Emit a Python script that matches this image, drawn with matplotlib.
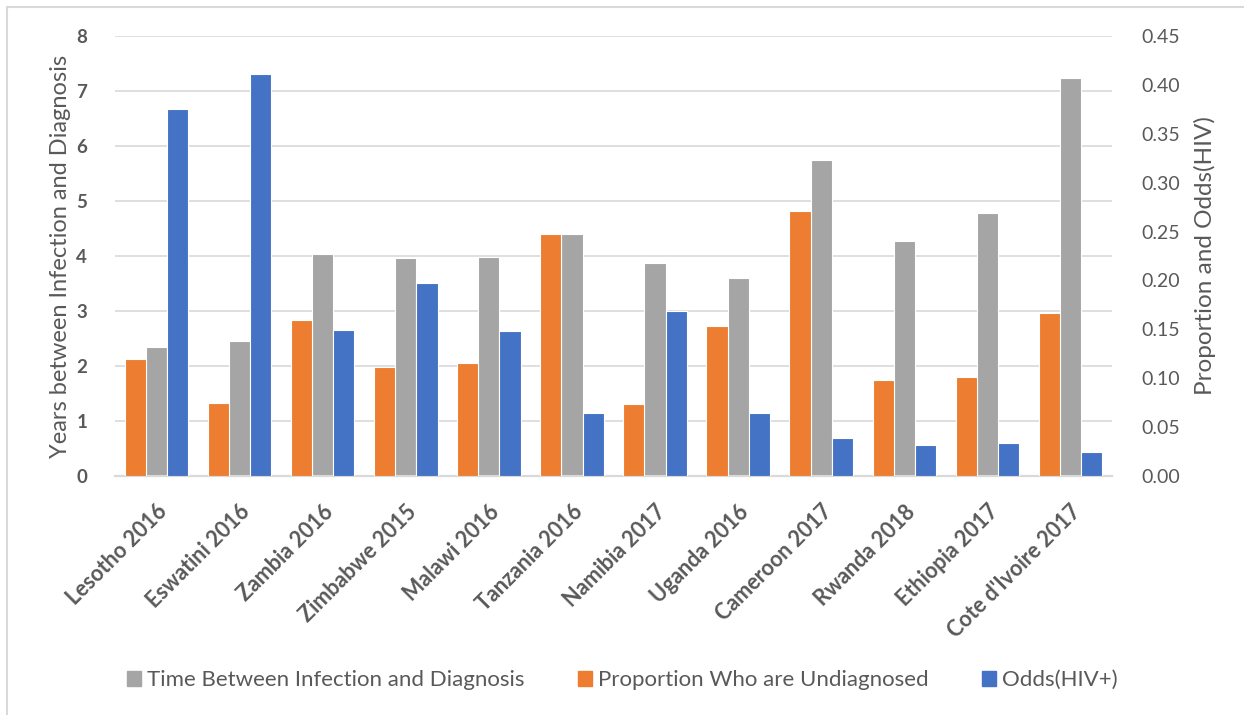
import matplotlib.pyplot as plt
from matplotlib.patches import Rectangle, Patch
import numpy as np

# survey country/year and the three measures
countries = ["Lesotho 2016", "Eswatini 2016", "Zambia 2016", "Zimbabwe 2015",
             "Malawi 2016", "Tanzania 2016", "Namibia 2017", "Uganda 2016",
             "Cameroon 2017", "Rwanda 2018", "Ethiopia 2017", "Cote d'Ivoire 2017"]
years_to_dx = [2.35, 2.45, 4.04, 3.96, 3.98, 4.40, 3.87, 3.60, 5.75, 4.27, 4.78, 7.24]
prop_undiag = [0.120, 0.075, 0.160, 0.111, 0.116, 0.248, 0.074, 0.153, 0.271, 0.098, 0.101, 0.167]
odds_hiv = [0.375, 0.411, 0.149, 0.197, 0.148, 0.064, 0.169, 0.064, 0.039, 0.032, 0.034, 0.025]

C_GRAY = "#A5A5A5"
C_ORANGE = "#ED7D31"
C_BLUE = "#4472C4"
TXT = "#595959"

plt.rcParams['font.family'] = ['Lato', 'DejaVu Sans']

fig = plt.figure(figsize=(12.44, 7.15), dpi=100)
fig.patches.append(Rectangle((7 / 1244, -0.05), 1.1, 1 - 7 / 715 + 0.05,
                             transform=fig.transFigure, fill=False,
                             edgecolor="#d9d9d9", lw=1.5))

ax = fig.add_axes([115 / 1244, 1 - 476 / 715, (1112 - 115) / 1244, (476 - 36) / 715])
ax2 = ax.twinx()

x = np.arange(len(countries))
w = 0.255
ax2.bar(x - w, prop_undiag, w, color=C_ORANGE, edgecolor="white", lw=0.8, zorder=3)
ax.bar(x, years_to_dx, w, color=C_GRAY, edgecolor="white", lw=0.8, zorder=3)
ax2.bar(x + w, odds_hiv, w, color=C_BLUE, edgecolor="white", lw=0.8, zorder=3)

ax.set_xlim(-0.5, len(countries) - 0.5)
ax.set_ylim(0, 8)
ax.set_yticks(range(0, 9))
ax2.set_ylim(0, 0.45)
ax2.set_yticks(np.arange(0, 0.451, 0.05))
ax2.set_yticklabels([f"{v:.2f}" for v in np.arange(0, 0.451, 0.05)])

ax.grid(axis="y", color="#d9d9d9", lw=1.2, zorder=0)
ax.set_axisbelow(True)
for a in (ax, ax2):
    for s in ("top", "right", "left"):
        a.spines[s].set_visible(False)
    a.spines["bottom"].set_color("#d9d9d9")
    a.spines["bottom"].set_linewidth(1.5)
    a.tick_params(length=0)

ax.tick_params(axis="y", labelsize=13.5, labelcolor=TXT, pad=20)
for t in ax.get_yticklabels():
    t.set_fontweight("bold")
ax2.tick_params(axis="y", labelsize=14, labelcolor=TXT, pad=21)

ax.set_xticks(x)
ax.set_xticklabels(countries, rotation=45, ha="right", rotation_mode="anchor",
                   fontsize=15.5, fontweight="bold", color=TXT)
ax.tick_params(axis="x", pad=18)

ax.set_ylabel("Years between Infection and Diagnosis", fontsize=17, color=TXT, labelpad=4)
ax2.set_ylabel("Proportion and Odds(HIV)", fontsize=17.5, color=TXT, labelpad=10)

handles = [Patch(color=C_GRAY), Patch(color=C_ORANGE), Patch(color=C_BLUE)]
labels = ["Time Between Infection and Diagnosis", "Proportion Who are Undiagnosed", "Odds(HIV+)"]
fig.legend(handles, labels, loc="center", bbox_to_anchor=(0.5, 1 - 680 / 715), ncol=3,
           frameon=False, fontsize=16, labelcolor=TXT, handlelength=0.65, handleheight=0.65,
           handletextpad=0.25, columnspacing=2.4)

fig.savefig("out.png", dpi=100)
